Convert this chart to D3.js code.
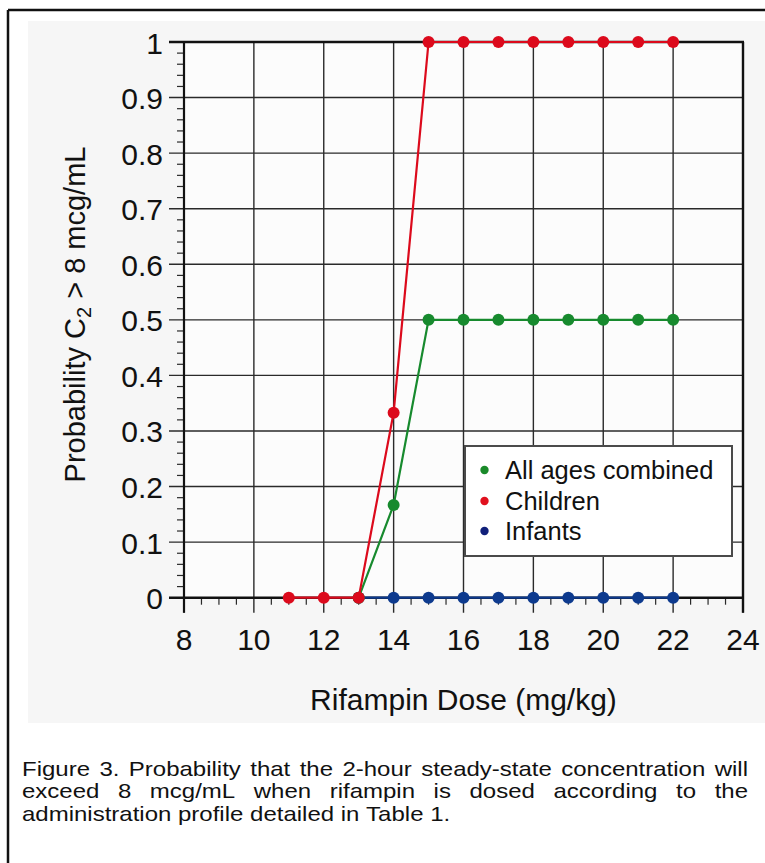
<!DOCTYPE html>
<html>
<head>
<meta charset="utf-8">
<script src="https://cdn.jsdelivr.net/npm/d3@7"></script>
<style>
  html, body { margin: 0; padding: 0; background: #ffffff; }
  svg { display: block; font-family: "Liberation Sans", Arial, sans-serif; }
</style>
</head>
<body>
<svg id="chart" width="765" height="863"></svg>
<script>
// ---------- data ----------
const childrenDose = [11, 12, 13, 14, 15, 16, 17, 18, 19, 20, 21, 22];
const childrenProb = [0, 0, 0, 0.333, 1, 1, 1, 1, 1, 1, 1, 1];
const allAgesDose = [13, 14, 15, 16, 17, 18, 19, 20, 21, 22];
const allAgesProb = [0, 0.167, 0.5, 0.5, 0.5, 0.5, 0.5, 0.5, 0.5, 0.5];
const infantsDose = [13, 14, 15, 16, 17, 18, 19, 20, 21, 22];
const infantsProb = [0, 0, 0, 0, 0, 0, 0, 0, 0, 0];
const xTicks = [8, 10, 12, 14, 16, 18, 20, 22, 24];
const yTicks = [0, 0.1, 0.2, 0.3, 0.4, 0.5, 0.6, 0.7, 0.8, 0.9, 1];
const yTickLabels = ["0", "0.1", "0.2", "0.3", "0.4", "0.5", "0.6", "0.7", "0.8", "0.9", "1"];
const seriesNames = ["All ages combined", "Children", "Infants"];
const captionLines = [
  "Figure 3. Probability that the 2-hour steady-state concentration will",
  "exceed 8 mcg/mL when rifampin is dosed according to the",
  "administration profile detailed in Table 1."
];

// ---------- layout ----------
const svg = d3.select("#chart");
const L = 184, R = 743, T = 42, B = 597.7;
const x = d3.scaleLinear().domain([8, 24]).range([L, R]);
const y = d3.scaleLinear().domain([0, 1]).range([B, T]);
const gridColor = "#2a2a2a";

// outer frame (top + left visible)
svg.append("line").attr("x1", 8).attr("x2", 770).attr("y1", 10).attr("y2", 10)
  .attr("stroke", "#111").attr("stroke-width", 2.5);
svg.append("line").attr("x1", 8).attr("x2", 8).attr("y1", 10).attr("y2", 870)
  .attr("stroke", "#111").attr("stroke-width", 2.5);

// chart panel background
svg.append("rect").attr("x", 28).attr("y", 21).attr("width", 760).attr("height", 702)
  .attr("fill", "#f6f6f6");
svg.append("rect").attr("x", L).attr("y", T).attr("width", R - L).attr("height", B - T)
  .attr("fill", "#fcfcfc");

// minor ticks
const yMinor = d3.range(0, 1.0001, 0.02).filter(v => Math.abs(Math.round(v * 10) - v * 10) > 1e-6);
svg.append("g").selectAll("line").data(yMinor).join("line")
  .attr("x1", L - 7).attr("x2", L).attr("y1", d => y(d)).attr("y2", d => y(d))
  .attr("stroke", gridColor).attr("stroke-width", 1.2);
const xMinor = d3.range(8, 24.001, 0.5).filter(v => Math.abs(v / 2 - Math.round(v / 2)) > 1e-6);
svg.append("g").selectAll("line").data(xMinor).join("line")
  .attr("x1", d => x(d)).attr("x2", d => x(d)).attr("y1", B).attr("y2", B + 7)
  .attr("stroke", gridColor).attr("stroke-width", 1.2);

// horizontal gridlines + major ticks
svg.append("g").selectAll("line").data(yTicks).join("line")
  .attr("x1", L - 15).attr("x2", R).attr("y1", d => y(d)).attr("y2", d => y(d))
  .attr("stroke", gridColor).attr("stroke-width", 1.4);
// vertical gridlines + major ticks
svg.append("g").selectAll("line").data(xTicks).join("line")
  .attr("x1", d => x(d)).attr("x2", d => x(d)).attr("y1", T).attr("y2", B + 15)
  .attr("stroke", gridColor).attr("stroke-width", 1.4);

// frame of plot
svg.append("line").attr("x1", L - 15).attr("x2", R + 1).attr("y1", T).attr("y2", T)
  .attr("stroke", "#111").attr("stroke-width", 2.4);
svg.append("line").attr("x1", R).attr("x2", R).attr("y1", T).attr("y2", B + 15)
  .attr("stroke", "#111").attr("stroke-width", 2.4);
svg.append("line").attr("x1", L - 15).attr("x2", R + 1).attr("y1", B).attr("y2", B)
  .attr("stroke", "#111").attr("stroke-width", 2.4);
svg.append("line").attr("x1", L).attr("x2", L).attr("y1", T).attr("y2", B + 15)
  .attr("stroke", "#111").attr("stroke-width", 2.2);

// tick labels
svg.append("g").selectAll("text").data(yTicks).join("text")
  .attr("x", 163).attr("y", d => y(d) + 11.5)
  .attr("text-anchor", "end").attr("font-size", 30).attr("fill", "#111")
  .text((d, i) => yTickLabels[i]);
svg.append("g").selectAll("text").data(xTicks).join("text")
  .attr("x", d => x(d)).attr("y", 650)
  .attr("text-anchor", "middle").attr("font-size", 30).attr("fill", "#111")
  .text(d => d);

// axis titles
svg.append("text").attr("x", (L + R) / 2).attr("y", 710)
  .attr("text-anchor", "middle").attr("font-size", 30).attr("fill", "#111")
  .text("Rifampin Dose (mg/kg)");
const yt = svg.append("text").attr("transform", "translate(85,314.5) rotate(-90)")
  .attr("text-anchor", "middle").attr("font-size", 29).attr("fill", "#111");
yt.append("tspan").text("Probability C");
yt.append("tspan").attr("font-size", 20).attr("dy", 6).text("2");
yt.append("tspan").attr("dy", -6).text(" > 8 mcg/mL");

// series
const series = [
  { name: "Infants", xs: infantsDose, ys: infantsProb, color: "#0d3a8e" },
  { name: "All ages combined", xs: allAgesDose, ys: allAgesProb, color: "#178a2e" },
  { name: "Children", xs: childrenDose, ys: childrenProb, color: "#dc0a1c" }
];
const line = d3.line().x(d => x(d[0])).y(d => y(d[1]));
series.forEach(s => {
  const pts = s.xs.map((v, i) => [v, s.ys[i]]);
  const g = svg.append("g");
  g.append("path").datum(pts).attr("d", line).attr("fill", "none")
    .attr("stroke", s.color).attr("stroke-width", 2.2);
  g.selectAll("circle").data(pts).join("circle")
    .attr("cx", d => x(d[0])).attr("cy", d => y(d[1])).attr("r", 6)
    .attr("fill", s.color);
});

// legend
const legend = svg.append("g");
legend.append("rect").attr("x", 465).attr("y", 446).attr("width", 267).attr("height", 110)
  .attr("fill", "#ffffff").attr("stroke", "#4a4a4a").attr("stroke-width", 2);
const legendColors = ["#1a8a2a", "#e0101e", "#10207a"];
const legendRowY = [470, 501, 531];
seriesNames.forEach((n, i) => {
  legend.append("circle").attr("cx", 484.5).attr("cy", legendRowY[i]).attr("r", 4.2)
    .attr("fill", legendColors[i]);
  legend.append("text").attr("x", 505).attr("y", legendRowY[i] + 9)
    .attr("font-size", 25.5).attr("fill", "#111").text(n);
});

// caption (justified)
const capScaleY = 0.86;
const cap = svg.append("g").attr("transform", `translate(0,776) scale(1,${capScaleY})`);
const capLeft = 22, capRight = 748, capSize = 24, capLead = 22.5 / capScaleY;
captionLines.forEach((ln, li) => {
  const words = ln.split(" ");
  const yy = li * capLead;
  const tmp = words.map(w => cap.append("text").attr("font-size", capSize).attr("fill", "#111")
    .attr("y", yy).text(w));
  const widths = tmp.map(t => t.node().getComputedTextLength());
  const total = d3.sum(widths);
  let gap;
  if (li < captionLines.length - 1) {
    gap = (capRight - capLeft - total) / (words.length - 1);
  } else {
    const sp = cap.append("text").attr("font-size", capSize).text("a a");
    const sp2 = cap.append("text").attr("font-size", capSize).text("aa");
    gap = sp.node().getComputedTextLength() - sp2.node().getComputedTextLength();
    sp.remove(); sp2.remove();
  }
  let cx = capLeft;
  tmp.forEach((t, i) => { t.attr("x", cx); cx += widths[i] + gap; });
});
</script>
</body>
</html>
